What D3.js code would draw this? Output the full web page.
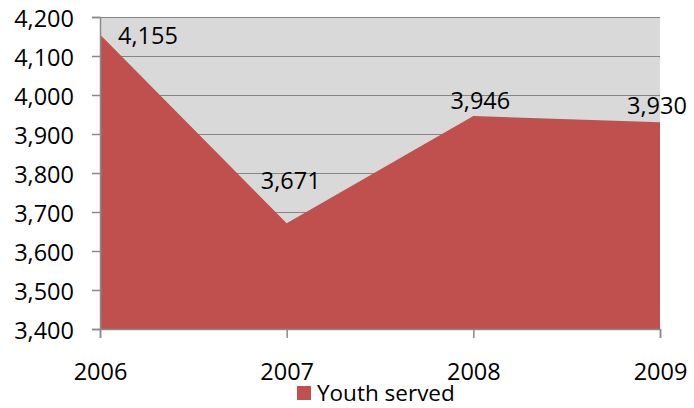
<!DOCTYPE html>
<html>
<head>
<meta charset="utf-8">
<script src="https://cdn.jsdelivr.net/npm/d3@7"></script>
<style>
  html, body { margin: 0; padding: 0; background: #ffffff; }
  svg { display: block; }
  text { font-family: "Open Sans", "Liberation Sans", sans-serif; fill: #000; }
</style>
</head>
<body>
<svg id="chart" width="694" height="408"></svg>
<script>
// Youth served per year
const years = ["2006", "2007", "2008", "2009"];
const youthServed = [4155, 3671, 3946, 3930];
const yTicks = [3400, 3500, 3600, 3700, 3800, 3900, 4000, 4100, 4200];
const seriesName = "Youth served";

// label nudges relative to each point (dx, dy in px)
const labelOffsets = [[48, 9], [4, -34], [7, -7], [-3, -8]];

const W = 694, H = 408;
const plot = { left: 100, right: 660, top: 17, bottom: 329 };

const svg = d3.select("#chart");

const x = d3.scalePoint().domain(years).range([plot.left, plot.right]);
const y = d3.scaleLinear().domain([3400, 4200]).range([plot.bottom, plot.top]);

// plot background
svg.append("rect")
  .attr("x", plot.left).attr("y", plot.top)
  .attr("width", plot.right - plot.left).attr("height", plot.bottom - plot.top)
  .attr("fill", "#d9d9d9");

// horizontal gridlines
svg.append("g").selectAll("line").data(yTicks.slice(1)).join("line")
  .attr("x1", plot.left).attr("x2", plot.right)
  .attr("y1", d => Math.round(y(d)) + 0.5).attr("y2", d => Math.round(y(d)) + 0.5)
  .attr("stroke", "#858585").attr("stroke-width", 1);

// area
const pts = years.map((yr, i) => ({ yr, v: youthServed[i] }));
const area = d3.area()
  .x(d => x(d.yr))
  .y0(plot.bottom)
  .y1(d => y(d.v));
svg.append("path").datum(pts)
  .attr("d", area)
  .attr("fill", "#c0504d");

// y axis
const yAxis = d3.axisLeft(y).tickValues(yTicks).tickSize(8).tickPadding(18)
  .tickFormat(d3.format(","));
const gy = svg.append("g").attr("transform", `translate(${plot.left},0)`).call(yAxis);
gy.select(".domain").attr("stroke", "#8a8a8a").attr("stroke-width", 1.5);
gy.selectAll(".tick line").attr("stroke", "#8a8a8a").attr("stroke-width", 1.5);
gy.selectAll(".tick text")
  .attr("font-size", 23.5).attr("font-family", "'Open Sans', sans-serif")
  .attr("dy", "0.4em").attr("fill", "#000");

// x axis
const xAxis = d3.axisBottom(x).tickSize(9).tickPadding(25);
const gx = svg.append("g").attr("transform", `translate(0,${plot.bottom})`).call(xAxis);
gx.select(".domain").attr("stroke", "#8a8a8a").attr("stroke-width", 1.5);
gx.selectAll(".tick line").attr("stroke", "#8a8a8a").attr("stroke-width", 1.5);
gx.selectAll(".tick text")
  .attr("font-size", 23.5).attr("font-family", "'Open Sans', sans-serif")
  .attr("fill", "#000");

// data labels
svg.append("g").selectAll("text").data(pts).join("text")
  .attr("x", (d, i) => x(d.yr) + labelOffsets[i][0])
  .attr("y", (d, i) => y(d.v) + labelOffsets[i][1])
  .attr("text-anchor", "middle")
  .attr("font-size", 23.5)
  .text(d => d3.format(",")(d.v));

// legend
const lg = svg.append("g").attr("transform", "translate(297,386)");
lg.append("rect").attr("width", 14).attr("height", 14).attr("fill", "#c0504d");
lg.append("text").attr("x", 20).attr("y", 15).attr("font-size", 22.5).text(seriesName);
</script>
</body>
</html>
